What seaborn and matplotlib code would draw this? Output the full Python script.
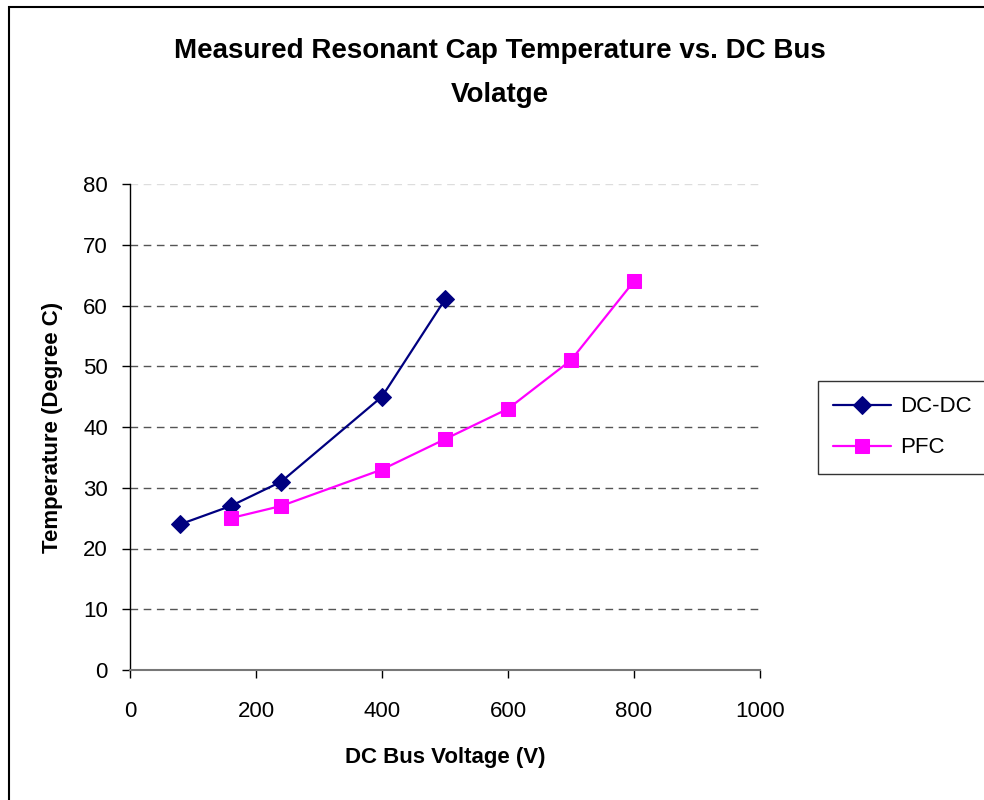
import matplotlib
matplotlib.use("Agg")
import matplotlib.pyplot as plt
import seaborn as sns
import pandas as pd
from matplotlib.patches import Rectangle

# Data
dcdc_voltage = [80, 160, 240, 400, 500]
dcdc_temp = [24, 27, 31, 45, 61]
pfc_voltage = [160, 240, 400, 500, 600, 700, 800]
pfc_temp = [25, 27, 33, 38, 43, 51, 64]
series_names = ["DC-DC", "PFC"]
x_ticks = [0, 200, 400, 600, 800, 1000]
y_ticks = [0, 10, 20, 30, 40, 50, 60, 70, 80]
title_text = "Measured Resonant Cap Temperature vs. DC Bus\nVolatge"
x_label = "DC Bus Voltage (V)"
y_label = "Temperature (Degree C)"

sns.set_theme(style="white")
plt.rcParams["font.family"] = ["Liberation Sans", "DejaVu Sans"]
plt.rcParams["text.color"] = "black"
plt.rcParams["axes.labelcolor"] = "black"

fig = plt.figure(figsize=(9.84, 8.0), dpi=100)
ax = fig.add_axes([0.1321, 0.1625, 0.6403, 0.6075])

df_dc = pd.DataFrame({"V": dcdc_voltage, "T": dcdc_temp})
df_pfc = pd.DataFrame({"V": pfc_voltage, "T": pfc_temp})

sns.lineplot(data=df_dc, x="V", y="T", ax=ax, color="#000080", marker="D",
             markersize=9, markeredgecolor="#000080", linewidth=1.6,
             sort=False, label=series_names[0], zorder=3)
sns.lineplot(data=df_pfc, x="V", y="T", ax=ax, color="#FF00FF", marker="s",
             markersize=10, markeredgecolor="#FF00FF", linewidth=1.6,
             sort=False, label=series_names[1], zorder=3)

ax.set_xlim(0, 1000)
ax.set_ylim(0, 80)
ax.set_xticks(x_ticks)
ax.set_yticks(y_ticks)
ax.tick_params(axis="both", labelsize=16, colors="black", direction="out",
               length=6, width=1, bottom=True, left=True)
ax.tick_params(axis="x", pad=16)
ax.tick_params(axis="y", pad=10)

ax.grid(False)
ax.yaxis.grid(True, color="#555555", linestyle=(0, (5.5, 4.0)), linewidth=1.0)
gl = ax.yaxis.get_gridlines()
gl[-1].set_color("#dddddd")
gl[0].set_visible(False)

for s in ["top", "right"]:
    ax.spines[s].set_visible(False)
ax.spines["left"].set_color("black")
ax.spines["left"].set_linewidth(1.0)
ax.spines["bottom"].set_color("#777777")
ax.spines["bottom"].set_linewidth(1.5)

ax.set_xlabel(x_label, fontsize=16, fontweight="bold", labelpad=18, color="black")
ax.set_ylabel(y_label, fontsize=16, fontweight="bold", labelpad=14, color="black")

fig.text(0.508, 0.909, title_text, ha="center", va="center", fontsize=20,
         fontweight="bold", linespacing=1.9, color="black")

leg = ax.legend(loc="upper left", bbox_to_anchor=(0.831, 0.524),
                bbox_transform=fig.transFigure, fontsize=16, frameon=True,
                fancybox=False, edgecolor="black", handlelength=2.6,
                borderpad=0.7, labelspacing=0.9, handletextpad=0.4,
                borderaxespad=0.0)
leg.get_frame().set_linewidth(1.0)
for t in leg.get_texts():
    t.set_color("black")

fig.patches.append(Rectangle((0.009, -0.1), 1.2, 1.091,
                             transform=fig.transFigure, fill=False,
                             edgecolor="black", linewidth=1.5))

fig.savefig("out.png", dpi=100)
